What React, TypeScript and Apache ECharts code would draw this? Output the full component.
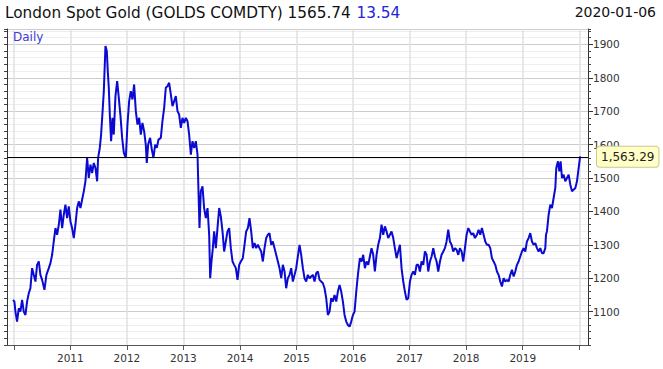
import React, { useEffect, useRef } from "react";
import * as echarts from "echarts";

// decimal year of each reading
const years = [
  2009.988, 2010.011, 2010.029, 2010.058, 2010.088, 2010.117, 2010.147, 2010.176, 2010.206, 2010.235,
  2010.265, 2010.294, 2010.324, 2010.353, 2010.383, 2010.412, 2010.442, 2010.471, 2010.501, 2010.542,
  2010.577, 2010.619, 2010.648, 2010.678, 2010.707, 2010.737, 2010.766, 2010.796, 2010.825, 2010.855,
  2010.884, 2010.913, 2010.943, 2010.972, 2011.002, 2011.031, 2011.061, 2011.090, 2011.120, 2011.149,
  2011.179, 2011.208, 2011.238, 2011.267, 2011.297, 2011.326, 2011.356, 2011.385, 2011.415, 2011.444,
  2011.474, 2011.491, 2011.521, 2011.544, 2011.574, 2011.592, 2011.621, 2011.645, 2011.662, 2011.680,
  2011.698, 2011.721, 2011.745, 2011.768, 2011.798, 2011.828, 2011.857, 2011.887, 2011.916, 2011.946,
  2011.981, 2012.010, 2012.040, 2012.069, 2012.099, 2012.128, 2012.158, 2012.187, 2012.217, 2012.246,
  2012.275, 2012.305, 2012.334, 2012.352, 2012.376, 2012.411, 2012.441, 2012.470, 2012.500, 2012.529,
  2012.559, 2012.600, 2012.629, 2012.659, 2012.688, 2012.718, 2012.747, 2012.777, 2012.806, 2012.836,
  2012.865, 2012.895, 2012.924, 2012.954, 2012.983, 2013.013, 2013.042, 2013.072, 2013.101, 2013.131,
  2013.160, 2013.190, 2013.219, 2013.249, 2013.266, 2013.284, 2013.307, 2013.337, 2013.366, 2013.396,
  2013.426, 2013.455, 2013.473, 2013.496, 2013.520, 2013.543, 2013.573, 2013.602, 2013.632, 2013.661,
  2013.691, 2013.720, 2013.750, 2013.779, 2013.809, 2013.838, 2013.868, 2013.897, 2013.927, 2013.956,
  2013.986, 2014.015, 2014.050, 2014.080, 2014.109, 2014.139, 2014.168, 2014.198, 2014.227, 2014.257,
  2014.286, 2014.316, 2014.345, 2014.375, 2014.404, 2014.434, 2014.463, 2014.493, 2014.522, 2014.552,
  2014.581, 2014.611, 2014.640, 2014.670, 2014.699, 2014.729, 2014.758, 2014.788, 2014.817, 2014.847,
  2014.876, 2014.906, 2014.935, 2014.965, 2014.994, 2015.023, 2015.053, 2015.082, 2015.112, 2015.141,
  2015.171, 2015.200, 2015.230, 2015.259, 2015.289, 2015.318, 2015.348, 2015.377, 2015.407, 2015.436,
  2015.466, 2015.495, 2015.525, 2015.554, 2015.584, 2015.613, 2015.643, 2015.672, 2015.702, 2015.731,
  2015.761, 2015.790, 2015.820, 2015.849, 2015.879, 2015.908, 2015.938, 2015.967, 2015.997, 2016.026,
  2016.056, 2016.085, 2016.120, 2016.150, 2016.179, 2016.209, 2016.238, 2016.268, 2016.297, 2016.326,
  2016.356, 2016.385, 2016.415, 2016.444, 2016.474, 2016.503, 2016.533, 2016.562, 2016.592, 2016.621,
  2016.651, 2016.680, 2016.710, 2016.739, 2016.769, 2016.798, 2016.828, 2016.857, 2016.887, 2016.916,
  2016.946, 2016.975, 2017.005, 2017.034, 2017.064, 2017.093, 2017.123, 2017.152, 2017.182, 2017.211,
  2017.241, 2017.270, 2017.300, 2017.329, 2017.359, 2017.388, 2017.418, 2017.447, 2017.477, 2017.506,
  2017.536, 2017.565, 2017.595, 2017.624, 2017.653, 2017.683, 2017.712, 2017.742, 2017.771, 2017.801,
  2017.830, 2017.860, 2017.889, 2017.919, 2017.948, 2017.978, 2018.007, 2018.037, 2018.066, 2018.096,
  2018.125, 2018.155, 2018.190, 2018.219, 2018.249, 2018.278, 2018.308, 2018.337, 2018.367, 2018.396,
  2018.426, 2018.455, 2018.485, 2018.514, 2018.544, 2018.573, 2018.603, 2018.632, 2018.662, 2018.691,
  2018.721, 2018.750, 2018.780, 2018.809, 2018.839, 2018.868, 2018.898, 2018.927, 2018.956, 2018.986,
  2019.015, 2019.045, 2019.074, 2019.104, 2019.133, 2019.163, 2019.192, 2019.222, 2019.251, 2019.281,
  2019.310, 2019.340, 2019.369, 2019.399, 2019.411, 2019.428, 2019.458, 2019.487, 2019.517, 2019.546,
  2019.576, 2019.593, 2019.623, 2019.647, 2019.670, 2019.694, 2019.723, 2019.753, 2019.782, 2019.812,
  2019.841, 2019.871, 2019.900, 2019.930, 2019.959, 2019.989, 2020.015,
];

// gold price (USD/oz)
const prices = [
  1135, 1130, 1100, 1070, 1110, 1100, 1135, 1100, 1090, 1130,
  1155, 1170, 1230, 1210, 1190, 1240, 1250, 1210, 1195, 1165,
  1210, 1230, 1245, 1270, 1310, 1350, 1330, 1360, 1405, 1350,
  1390, 1420, 1380, 1415, 1370, 1350, 1320, 1360, 1410, 1430,
  1410, 1435, 1460, 1490, 1560, 1500, 1540, 1515, 1545, 1530,
  1490, 1560, 1590, 1630, 1710, 1760, 1895, 1880, 1820, 1770,
  1690, 1610, 1680, 1630, 1745, 1790, 1740, 1685, 1620, 1575,
  1560, 1660, 1730, 1760, 1735, 1780, 1700, 1660, 1680, 1630,
  1665, 1640, 1600, 1545, 1600, 1620, 1585, 1560, 1600, 1590,
  1615, 1620, 1670, 1710, 1770, 1775, 1785, 1750, 1715, 1730,
  1745, 1700, 1690, 1650, 1680, 1665, 1680, 1670, 1630, 1570,
  1610, 1590, 1610, 1570, 1460, 1350, 1460, 1475, 1410, 1380,
  1410, 1330, 1200, 1250, 1290, 1340, 1290, 1350, 1410, 1385,
  1340, 1280, 1310, 1340, 1350, 1290, 1250, 1240, 1230, 1195,
  1240, 1250, 1260, 1300, 1340, 1350, 1380, 1340, 1290, 1305,
  1290, 1300, 1290, 1280, 1250, 1290, 1320, 1330, 1335, 1300,
  1310, 1290, 1270, 1250, 1230, 1200, 1240, 1220, 1170, 1200,
  1210, 1230, 1190, 1210, 1230, 1265, 1300, 1270, 1230, 1200,
  1190, 1210, 1200, 1205, 1210, 1190, 1215, 1220, 1195, 1190,
  1185, 1170, 1140, 1090, 1100, 1140, 1130, 1150, 1130, 1160,
  1180, 1160, 1130, 1090, 1070, 1060, 1055, 1070, 1090, 1100,
  1160, 1210, 1260, 1250, 1270, 1230, 1250, 1240, 1265, 1290,
  1270, 1220, 1270, 1300, 1320, 1360, 1330, 1355, 1340, 1320,
  1330, 1340, 1320, 1290, 1260, 1280, 1300, 1230, 1190, 1160,
  1135, 1140, 1190, 1210, 1220, 1210, 1240, 1240, 1220, 1250,
  1240, 1280, 1270, 1220, 1250, 1265, 1290, 1265, 1250, 1220,
  1250, 1270, 1280, 1290, 1310, 1345, 1310, 1300, 1280, 1290,
  1285, 1270, 1290, 1280, 1250, 1290, 1330, 1350, 1340, 1330,
  1335, 1320, 1330, 1345, 1330, 1350, 1330, 1310, 1300, 1300,
  1290, 1260, 1250, 1240, 1220, 1210, 1190, 1175, 1200, 1190,
  1195, 1190, 1210, 1225, 1205, 1220, 1240, 1250, 1265, 1280,
  1290, 1280, 1310, 1320, 1335, 1310, 1300, 1305, 1290, 1280,
  1290, 1275, 1275, 1290, 1330, 1340, 1390, 1420, 1410, 1440,
  1470, 1530, 1550, 1520, 1550, 1500, 1510, 1490, 1500, 1510,
  1480, 1460, 1465, 1470, 1490, 1530, 1565,
];

const yearTicks = [2010, 2011, 2012, 2013, 2014, 2015, 2016, 2017, 2018, 2019, 2020];
const yearLabels = [2011, 2012, 2013, 2014, 2015, 2016, 2017, 2018, 2019];
const lastPrice = 1563.29;
const titleMain = "London Spot Gold (GOLDS COMDTY) 1565.74";
const titleChange = "13.54";
const dateText = "2020-01-06";
const frequencyText = "Daily";

const FONT = "DejaVu Sans";

export default function App() {
  const ref = useRef<HTMLDivElement>(null);
  useEffect(() => {
    const chart = echarts.init(ref.current!, null, { renderer: "svg" });
    const data = years.map((y, i) => [y, prices[i]]);
    const yMin = 1000;
    const yMax = 1946;
    chart.setOption({
      animation: false,
      backgroundColor: "#ffffff",
      textStyle: { fontFamily: FONT },
      title: [
        {
          text: `{a|${titleMain}} {b|${titleChange}}`,
          left: 5,
          top: 4,
          padding: 0,
          textStyle: {
            fontWeight: "normal",
            rich: {
              a: { fontFamily: FONT, fontSize: 15.3, fontWeight: "normal", color: "#111" },
              b: { fontFamily: FONT, fontSize: 15.3, fontWeight: "normal", color: "#2323dd" },
            },
          },
        },
        {
          text: dateText,
          right: 7,
          top: 5,
          padding: 0,
          textStyle: { fontFamily: FONT, fontSize: 14, fontWeight: "normal", color: "#111" },
        },
        {
          text: frequencyText,
          left: 13,
          top: 31,
          padding: 0,
          textStyle: { fontFamily: FONT, fontSize: 12, fontWeight: "normal", color: "#3c3cd0" },
        },
      ],
      grid: { left: 7, right: 75, top: 29, bottom: 24, containLabel: false },
      xAxis: {
        type: "value",
        min: 2009.88,
        max: 2020.154,
        axisLine: { show: true, onZero: false, lineStyle: { color: "#555", width: 1 } },
        axisTick: { show: true, customValues: yearTicks, length: 5, lineStyle: { color: "#555" } },
        axisLabel: {
          customValues: yearLabels,
          formatter: (v: number) => String(Math.round(v)),
          color: "#333",
          fontSize: 10.5,
          fontFamily: FONT,
          margin: 7,
        },
        splitLine: { show: true, lineStyle: { color: "#e0e0e0", width: 1.5 } },
      },
      yAxis: [
        {
          type: "value",
          position: "right",
          min: yMin,
          max: yMax,
          interval: 20,
          axisLine: { show: false },
          axisTick: { show: true, length: 3, lineStyle: { color: "#444" } },
          axisLabel: { show: false },
          splitLine: { show: true, lineStyle: { color: "#eeeeee", width: 1 } },
        },
        {
          type: "value",
          position: "right",
          min: yMin,
          max: yMax,
          interval: 100,
          axisLine: { show: true, onZero: false, lineStyle: { color: "#333", width: 1 } },
          axisTick: { show: true, length: 5, lineStyle: { color: "#333" } },
          axisLabel: {
            showMinLabel: false,
            showMaxLabel: false,
            formatter: (v: number) => String(v),
            color: "#333",
            fontSize: 10.5,
            fontFamily: FONT,
            margin: 5,
          },
          splitLine: { show: true, lineStyle: { color: "#cccccc", width: 1 } },
        },
        {
          type: "value",
          position: "left",
          min: yMin,
          max: yMax,
          interval: 20,
          axisLine: { show: true, onZero: false, lineStyle: { color: "#333", width: 1 } },
          axisTick: { show: true, length: 3, lineStyle: { color: "#444" } },
          axisLabel: { show: false },
          splitLine: { show: false },
        },
      ],
      series: [
        {
          type: "line",
          data,
          yAxisIndex: 1,
          showSymbol: false,
          symbol: "none",
          lineStyle: { color: "#0a0ad2", width: 2 },
          markLine: {
            silent: true,
            symbol: ["none", "none"],
            data: [{ yAxis: lastPrice }],
            lineStyle: { color: "#000", width: 1, type: "solid" },
            label: {
              show: true,
              position: "end",
              distance: 9,
              formatter: () =>
                lastPrice.toLocaleString("en-US", { minimumFractionDigits: 2, maximumFractionDigits: 2 }),
              backgroundColor: "#ffffc6",
              borderColor: "#c8c890",
              borderWidth: 1,
              borderRadius: 3,
              padding: [4, 4, 4, 4],
              color: "#222",
              fontSize: 12,
              fontFamily: FONT,
            },
          },
        },
      ],
    });
    return () => chart.dispose();
  }, []);
  return (
    <div
      ref={ref}
      style={{ position: "absolute", left: 0, top: 0, width: 663, height: 369 }}
    />
  );
}
